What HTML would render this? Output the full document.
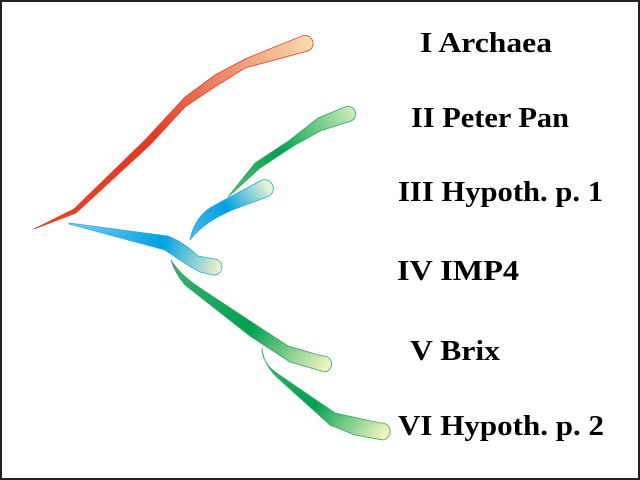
<!DOCTYPE html>
<html><head><style>html,body{margin:0;padding:0;background:#fff}svg{display:block}</style></head>
<body>
<svg width="640" height="480" viewBox="0 0 640 480" xmlns="http://www.w3.org/2000/svg">
<defs>
<linearGradient id="gr" x1="34" y1="229" x2="310" y2="40" gradientUnits="userSpaceOnUse">
<stop offset="0" stop-color="#e8432c"/><stop offset="0.45" stop-color="#e03a25"/><stop offset="1" stop-color="#f8dcb0"/></linearGradient>
<linearGradient id="gg2" x1="228" y1="197" x2="352" y2="112" gradientUnits="userSpaceOnUse">
<stop offset="0" stop-color="#5cc07a"/><stop offset="0.45" stop-color="#00a050"/><stop offset="1" stop-color="#c8ebb8"/></linearGradient>
<linearGradient id="gb3" x1="190" y1="240" x2="270" y2="188" gradientUnits="userSpaceOnUse">
<stop offset="0" stop-color="#50b8ec"/><stop offset="0.5" stop-color="#009fe3"/><stop offset="1" stop-color="#e8f4d0"/></linearGradient>
<linearGradient id="gb4" x1="69" y1="223" x2="220" y2="270" gradientUnits="userSpaceOnUse">
<stop offset="0" stop-color="#80d0f0"/><stop offset="0.6" stop-color="#00a0e0"/><stop offset="1" stop-color="#f0f4c8"/></linearGradient>
<linearGradient id="gg5" x1="171" y1="260" x2="328" y2="365" gradientUnits="userSpaceOnUse">
<stop offset="0" stop-color="#40b070"/><stop offset="0.55" stop-color="#00a050"/><stop offset="1" stop-color="#f0f4c0"/></linearGradient>
<linearGradient id="gg6" x1="262" y1="348" x2="386" y2="432" gradientUnits="userSpaceOnUse">
<stop offset="0" stop-color="#40b070"/><stop offset="0.5" stop-color="#00a050"/><stop offset="1" stop-color="#f0f4c0"/></linearGradient>
</defs>
<rect x="1" y="1" width="638" height="478" fill="#fff" stroke="#222" stroke-width="2"/>
<path d="M34,229 L74,209 L145,140 L185,97 L215,75 L245,59 L302,36 A8,8 0 0 1 308,51 L245,68 L210,90 L185,107 L150,145 L76,213 Z" fill="url(#gr)" stroke="#e8432c" stroke-width="0.8"/>
<path d="M228,197 L255,163 L290,140 L318,118 L345,107 A7,7 0 0 1 351,121 L320,131 L295,145 L260,168 Z" fill="url(#gg2)" stroke="#2fa860" stroke-width="0.8"/>
<path d="M190,240 Q195,215 215,205 L262,180 A8,8 0 0 1 267,197 L240,207 Q205,220 190,240 Z" fill="url(#gb3)" stroke="#30a8e0" stroke-width="0.8"/>
<path d="M69,223 L168,236 Q185,243 198,256 L215,259 A7,7 0 0 1 213,275 L200,272 Q185,264 165,250 L69,224 Z" fill="url(#gb4)" stroke="#30a8e0" stroke-width="0.8"/>
<path d="M171,260 Q180,275 200,288 L288,346 L322,356 A7,7 0 0 1 325,372 L290,362 L250,336 L185,285 Q175,273 171,260 Z" fill="url(#gg5)" stroke="#2fa860" stroke-width="0.8"/>
<path d="M262,348 Q262,362 275,372 L335,413 L380,423 A7,7 0 0 1 383,440 L355,435 L330,425 L280,380 Q263,365 262,348 Z" fill="url(#gg6)" stroke="#2fa860" stroke-width="0.8"/>
<g font-family="Liberation Serif, serif" font-weight="bold" font-size="28" fill="#000">
<text x="420" y="52" textLength="132" lengthAdjust="spacingAndGlyphs">I Archaea</text>
<text x="411" y="127" textLength="158" lengthAdjust="spacingAndGlyphs">II Peter Pan</text>
<text x="398" y="201" textLength="205" lengthAdjust="spacingAndGlyphs">III Hypoth. p. 1</text>
<text x="397" y="280" textLength="122" lengthAdjust="spacingAndGlyphs">IV IMP4</text>
<text x="410" y="360" textLength="90" lengthAdjust="spacingAndGlyphs">V Brix</text>
<text x="398" y="435" textLength="206" lengthAdjust="spacingAndGlyphs">VI Hypoth. p. 2</text>
</g>
</svg>
</body></html>
